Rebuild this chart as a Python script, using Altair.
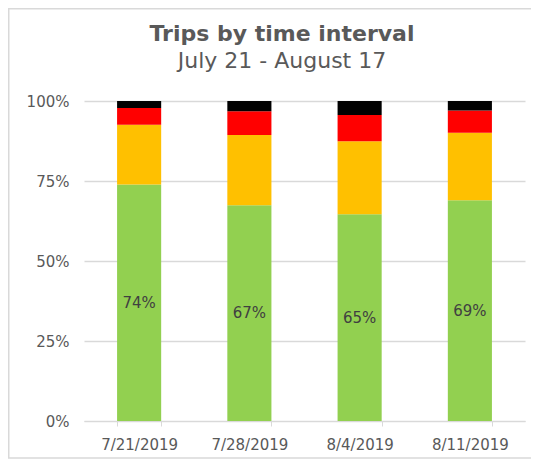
import altair as alt
import pandas as pd

weeks = ["7/21/2019", "7/28/2019", "8/4/2019", "8/11/2019"]
series = ["Green", "Yellow", "Red", "Black"]
colors = ["#92d050", "#ffc000", "#ff0000", "#000000"]
green = [73.9, 67.4, 64.6, 69.0]
yellow = [18.7, 22.0, 22.8, 21.1]
red = [5.2, 7.4, 8.2, 6.9]
black = [2.2, 3.2, 4.4, 3.0]
green_labels = ["74%", "67%", "65%", "69%"]
y_ticks = [0, 25, 50, 75, 100]
title_text = "Trips by time interval"
subtitle_text = "July 21 - August 17"

rows = []
for i, w in enumerate(weeks):
    for j, (s, vals) in enumerate(zip(series, [green, yellow, red, black])):
        rows.append({"week": w, "series": s, "order": j, "value": vals[i],
                     "label": green_labels[i] if s == "Green" else ""})
df = pd.DataFrame(rows)

FONT = "DejaVu Sans"
TXT = "#595959"
GRID = "#d9d9d9"

x_enc = alt.X("week:N", sort=weeks, title=None,
              scale=alt.Scale(paddingInner=0.6, paddingOuter=0.3),
              axis=alt.Axis(labelAngle=0, labelFont=FONT, labelFontSize=15, labelColor=TXT,
                            domainColor=GRID, tickColor=GRID, tickSize=5, tickBand="extent",
                            labelPadding=11, grid=False))
y_enc = alt.Y("value:Q", stack="zero", title=None,
              scale=alt.Scale(domain=[0, 100], nice=False),
              axis=alt.Axis(values=y_ticks, labelExpr="datum.value + '%'", labelFont=FONT,
                            labelFontSize=15, labelColor=TXT, domain=False, ticks=False,
                            labelPadding=15, gridColor=GRID, gridWidth=1.5))

bars = alt.Chart(df).mark_bar().encode(
    x=x_enc,
    y=y_enc,
    color=alt.Color("series:N", sort=series,
                    scale=alt.Scale(domain=series, range=colors), legend=None),
    order=alt.Order("order:Q", sort="ascending"),
)

labels = alt.Chart(df).transform_filter("datum.series == 'Green'").mark_text(
    font=FONT, fontSize=15, color="#404040"
).encode(
    x=alt.X("week:N", sort=weeks),
    y=alt.Y("mid:Q"),
    text="label:N",
).transform_calculate(mid="datum.value / 2")

one = alt.Data(values=[{}])

border_left = alt.Chart(one).mark_rule(color=GRID, strokeWidth=1.5).encode(
    x=alt.value(-75.25), y=alt.value(-92.25), y2=alt.value(357))
border_top = alt.Chart(one).mark_rule(color=GRID, strokeWidth=1.5).encode(
    x=alt.value(-76), x2=alt.value(447), y=alt.value(-92.25))
border_bottom = alt.Chart(one).mark_rule(color=GRID, strokeWidth=1.5).encode(
    x=alt.value(-76), x2=alt.value(447), y=alt.value(357))

title_mark = alt.Chart(one).mark_text(
    font=FONT, fontSize=22, fontWeight="bold", color=TXT, align="center", baseline="alphabetic"
).encode(x=alt.value(198), y=alt.value(-60), text=alt.value(title_text))

subtitle_mark = alt.Chart(one).mark_text(
    font=FONT, fontSize=22, color=TXT, align="center", baseline="alphabetic"
).encode(x=alt.value(198), y=alt.value(-33.5), text=alt.value(subtitle_text))

chart = alt.layer(border_left, border_top, border_bottom, bars, labels,
                  title_mark, subtitle_mark).properties(
    width=441, height=320,
    autosize=alt.AutoSizeParams(type="none"),
    padding={"left": 76, "top": 93, "right": 6, "bottom": 38},
).configure_view(stroke=None)

chart.save("out.html", embed_options={"renderer": "svg", "actions": False})
